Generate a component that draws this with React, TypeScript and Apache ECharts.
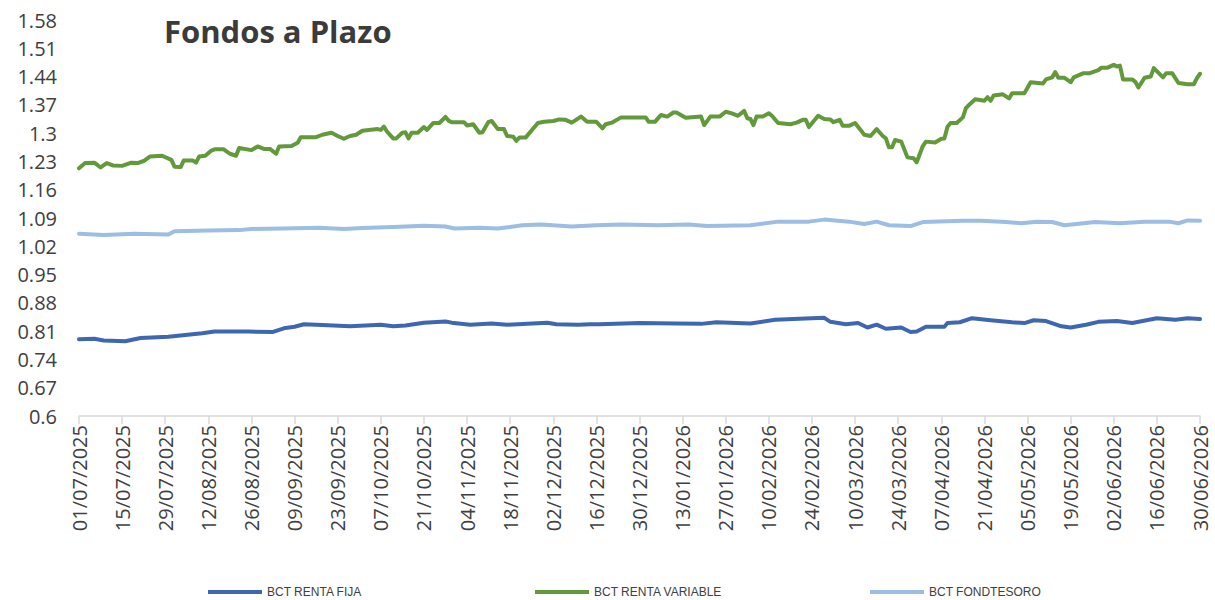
import React, { useEffect, useRef } from "react";
import * as echarts from "echarts";

// Tick labels
const Y_TICKS = [0.6, 0.67, 0.74, 0.81, 0.88, 0.95, 1.02, 1.09, 1.16, 1.23, 1.3, 1.37, 1.44, 1.51, 1.58];
const X_TICK_LABELS = [
  "01/07/2025", "15/07/2025", "29/07/2025", "12/08/2025", "26/08/2025", "09/09/2025", "23/09/2025",
  "07/10/2025", "21/10/2025", "04/11/2025", "18/11/2025", "02/12/2025", "16/12/2025", "30/12/2025",
  "13/01/2026", "27/01/2026", "10/02/2026", "24/02/2026", "10/03/2026", "24/03/2026", "07/04/2026",
  "21/04/2026", "05/05/2026", "19/05/2026", "02/06/2026", "16/06/2026", "30/06/2026",
];
const START_DATE = "01/07/2025";

const SERIES_NAMES = ["BCT RENTA FIJA", "BCT RENTA VARIABLE", "BCT FONDTESORO"];
const COLORS = ["#3F67B1", "#62993B", "#9CBDE4"];

// [days since 01/07/2025, value]
const RENTA_FIJA: [number, number][] = [
  [0, 0.79], [5, 0.791], [8, 0.787], [15, 0.785], [20, 0.793], [29, 0.796], [40, 0.805], [44, 0.809],
  [55, 0.809], [63, 0.808], [67, 0.818], [70, 0.821], [73, 0.827], [79, 0.825], [88, 0.822], [98, 0.826],
  [102, 0.822], [106, 0.824], [112, 0.831], [119, 0.834], [121, 0.831], [127, 0.826], [134, 0.829],
  [139, 0.826], [152, 0.831], [155, 0.827], [162, 0.826], [166, 0.827], [169, 0.827], [182, 0.83],
  [194, 0.829], [202, 0.828], [207, 0.832], [218, 0.829], [226, 0.838], [242, 0.843], [244, 0.833],
  [249, 0.827], [253, 0.83], [256, 0.819], [259, 0.826], [262, 0.816], [267, 0.819], [270, 0.808],
  [272, 0.809], [275, 0.821], [281, 0.821], [282, 0.83], [286, 0.832], [290, 0.842], [296, 0.837],
  [303, 0.832], [307, 0.83], [310, 0.837], [314, 0.835], [319, 0.822], [322, 0.819], [327, 0.826],
  [331, 0.833], [337, 0.835], [342, 0.83], [350, 0.842], [356, 0.838], [360, 0.842], [364, 0.84],
];

const RENTA_VARIABLE: [number, number][] = [
  [0, 1.213], [2, 1.226], [5, 1.227], [7, 1.215], [9, 1.226], [11, 1.22], [14, 1.219], [17, 1.227],
  [19, 1.226], [21, 1.231], [23, 1.242], [27, 1.244], [30, 1.234], [31, 1.217], [33, 1.216], [34, 1.232],
  [37, 1.232], [38, 1.227], [39, 1.242], [41, 1.244], [43, 1.257], [44, 1.26], [47, 1.26], [49, 1.249],
  [51, 1.244], [52, 1.263], [56, 1.258], [58, 1.267], [60, 1.261], [62, 1.261], [64, 1.249], [65, 1.267],
  [69, 1.268], [71, 1.276], [72, 1.29], [77, 1.29], [79, 1.296], [82, 1.301], [84, 1.293], [86, 1.286],
  [88, 1.293], [90, 1.296], [92, 1.306], [97, 1.31], [98, 1.308], [99, 1.316], [100, 1.304], [102, 1.287],
  [103, 1.287], [105, 1.301], [106, 1.302], [107, 1.287], [108, 1.301], [110, 1.301], [112, 1.315],
  [113, 1.308], [115, 1.325], [117, 1.325], [119, 1.34], [120, 1.331], [121, 1.327], [125, 1.327],
  [126, 1.319], [128, 1.322], [130, 1.301], [131, 1.302], [133, 1.328], [134, 1.33], [136, 1.31],
  [138, 1.31], [139, 1.293], [141, 1.291], [142, 1.281], [143, 1.289], [145, 1.289], [149, 1.325],
  [151, 1.328], [154, 1.33], [156, 1.334], [158, 1.333], [160, 1.326], [163, 1.341], [165, 1.328],
  [168, 1.328], [170, 1.312], [171, 1.322], [173, 1.326], [176, 1.339], [184, 1.339], [185, 1.328],
  [187, 1.328], [189, 1.345], [191, 1.341], [193, 1.351], [194, 1.351], [197, 1.338], [202, 1.341],
  [203, 1.32], [205, 1.341], [208, 1.341], [210, 1.353], [212, 1.349], [214, 1.343], [216, 1.355],
  [217, 1.337], [218, 1.335], [219, 1.32], [220, 1.341], [222, 1.341], [224, 1.349], [225, 1.343],
  [227, 1.325], [231, 1.322], [233, 1.326], [235, 1.333], [236, 1.333], [237, 1.315], [240, 1.343],
  [242, 1.335], [244, 1.334], [245, 1.327], [247, 1.333], [248, 1.318], [250, 1.318], [252, 1.325],
  [255, 1.296], [257, 1.293], [259, 1.31], [261, 1.293], [262, 1.287], [263, 1.265], [264, 1.265],
  [265, 1.283], [267, 1.279], [269, 1.24], [271, 1.238], [272, 1.228], [274, 1.268], [275, 1.279],
  [278, 1.277], [280, 1.286], [281, 1.287], [282, 1.316], [283, 1.325], [285, 1.325], [287, 1.339],
  [288, 1.362], [289, 1.37], [291, 1.384], [294, 1.38], [295, 1.389], [296, 1.38], [297, 1.393],
  [300, 1.396], [302, 1.386], [303, 1.399], [307, 1.399], [309, 1.426], [313, 1.423], [314, 1.433],
  [316, 1.438], [317, 1.451], [318, 1.437], [320, 1.437], [322, 1.426], [323, 1.438], [326, 1.448],
  [328, 1.448], [331, 1.456], [332, 1.462], [334, 1.462], [336, 1.469], [337, 1.465], [338, 1.467],
  [339, 1.433], [342, 1.433], [343, 1.427], [344, 1.413], [346, 1.437], [348, 1.44], [349, 1.461],
  [352, 1.438], [353, 1.448], [355, 1.448], [357, 1.424], [360, 1.421], [362, 1.421], [363, 1.436],
  [364, 1.447],
];

const FONDTESORO: [number, number][] = [
  [0, 1.051], [8, 1.048], [18, 1.051], [29, 1.049], [31, 1.057], [42, 1.059], [52, 1.06], [56, 1.063],
  [66, 1.064], [78, 1.066], [86, 1.063], [92, 1.065], [102, 1.068], [112, 1.071], [119, 1.069],
  [122, 1.064], [130, 1.066], [136, 1.064], [144, 1.072], [150, 1.074], [160, 1.069], [168, 1.072],
  [176, 1.074], [188, 1.072], [198, 1.074], [204, 1.07], [218, 1.072], [227, 1.081], [237, 1.081],
  [242, 1.086], [250, 1.081], [255, 1.075], [259, 1.081], [263, 1.072], [270, 1.07], [274, 1.08],
  [287, 1.083], [293, 1.083], [301, 1.08], [306, 1.077], [311, 1.081], [316, 1.08], [320, 1.072],
  [330, 1.08], [338, 1.077], [346, 1.081], [354, 1.081], [357, 1.077], [360, 1.084], [364, 1.083],
];

const TITLE = "Fondos a Plazo";

function parseDMY(s: string): number {
  const [d, m, y] = s.split("/").map(Number);
  return Date.UTC(y, m - 1, d);
}
const DAY_MS = 86400000;
const X_TICK_VALUES = X_TICK_LABELS.map((s) => Math.round((parseDMY(s) - parseDMY(START_DATE)) / DAY_MS));

const FONT = "'Open Sans', 'Liberation Sans', sans-serif";

export default function App() {
  const ref = useRef<HTMLDivElement>(null);
  useEffect(() => {
    if (!ref.current) return;
    const chart = echarts.init(ref.current, null, { renderer: "svg" });
    const datasets = [RENTA_FIJA, RENTA_VARIABLE, FONDTESORO];
    const legendLefts = [208, 535, 870];
    chart.setOption({
      animation: false,
      backgroundColor: "#ffffff",
      textStyle: { fontFamily: FONT },
      grid: { left: 79, right: 15, top: 20, bottom: 184, containLabel: false },
      graphic: [
        {
          type: "text",
          left: 164,
          top: 15,
          style: {
            text: TITLE,
            font: `bold 31px ${FONT}`,
            fill: "#3b3b3b",
          },
        },
      ],
      legend: SERIES_NAMES.map((name, i) => ({
        data: [name],
        left: legendLefts[i],
        top: 585,
        padding: 0,
        itemWidth: 54,
        itemHeight: 4,
        icon: "rect",
        itemGap: 5,
        textStyle: { fontSize: 12, lineHeight: 14, color: "#404040", fontFamily: "'Liberation Sans', sans-serif" },
        selectedMode: false,
      })),
      xAxis: {
        type: "value",
        min: 0,
        max: X_TICK_VALUES[X_TICK_VALUES.length - 1],
        splitLine: { show: false },
        axisLine: { show: true, lineStyle: { color: "#d9d9d9", width: 1.5 } },
        axisTick: { show: true, customValues: X_TICK_VALUES, length: 8, lineStyle: { color: "#d9d9d9", width: 1.5 } },
        axisLabel: {
          customValues: X_TICK_VALUES,
          rotate: 90,
          margin: 9,
          fontSize: 20,
          color: "#404040",
          fontFamily: FONT,
          formatter: (v: number) => {
            const idx = X_TICK_VALUES.indexOf(Math.round(v));
            return idx >= 0 ? X_TICK_LABELS[idx] : "";
          },
        },
      },
      yAxis: {
        type: "value",
        min: Y_TICKS[0],
        max: Y_TICKS[Y_TICKS.length - 1],
        splitLine: { show: false },
        axisLine: { show: false },
        axisTick: { show: false },
        axisLabel: {
          customValues: Y_TICKS,
          margin: 22,
          fontSize: 20,
          color: "#404040",
          fontFamily: FONT,
          formatter: (v: number) => String(parseFloat(v.toFixed(2))),
        },
      },
      series: SERIES_NAMES.map((name, i) => ({
        name,
        type: "line",
        data: datasets[i],
        showSymbol: false,
        symbol: "none",
        color: COLORS[i],
        lineStyle: { width: 4, color: COLORS[i], join: "round", cap: "round" },
        z: i === 1 ? 3 : 2,
      })),
    });
    return () => chart.dispose();
  }, []);
  return (
    <div
      ref={ref}
      style={{ position: "fixed", left: 0, top: 0, width: 1215, height: 600, background: "#fff" }}
    />
  );
}
